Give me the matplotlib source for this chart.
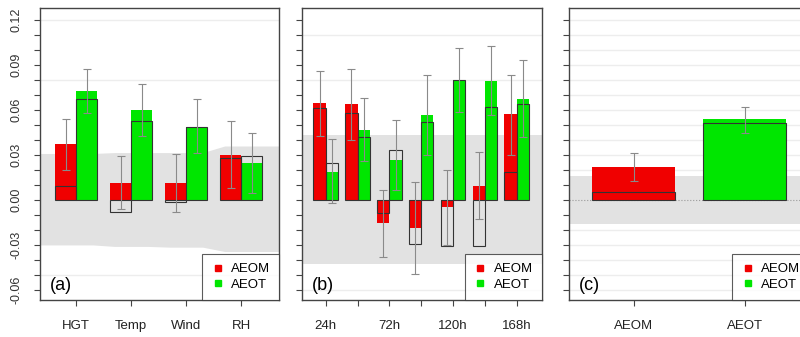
import numpy as np
import matplotlib
matplotlib.use('Agg')
import matplotlib.pyplot as plt
from matplotlib.lines import Line2D

plt.rcParams['font.family'] = ['Liberation Sans', 'DejaVu Sans']

red = '#f00000'
green = '#00e600'
band_col = '#e2e2e2'

# panel (a)
a_cats = ['HGT', 'Temp', 'Wind', 'RH']
a_aeom = [0.037, 0.0116, 0.0111, 0.030]
a_aeom_box = [0.0093, -0.0082, -0.0016, 0.0278]
a_aeom_lo = [0.020, -0.0062, -0.0082, 0.0078]
a_aeom_hi = [0.054, 0.0293, 0.0304, 0.0524]
a_aeot = [0.0727, 0.060, 0.0489, 0.0244]
a_aeot_box = [0.0673, 0.0527, 0.0489, 0.0293]
a_aeot_lo = [0.0582, 0.0427, 0.0316, 0.0044]
a_aeot_hi = [0.0871, 0.0771, 0.0673, 0.0449]
a_band_hi = [0.031, 0.0316, 0.0316, 0.036]
a_band_lo = [-0.030, -0.031, -0.0315, -0.0344]

# panel (b)
b_cats = ['24h', '48h', '72h', '96h', '120h', '144h', '168h']
b_labels = ['24h', '', '72h', '', '120h', '', '168h']
b_aeom = [0.0644, 0.064, -0.0156, -0.0189, -0.0049, 0.0096, 0.0571]
b_aeom_box = [0.0616, 0.0578, -0.0089, -0.0293, -0.0307, -0.0307, 0.0189]
b_aeom_lo = [0.0427, 0.040, -0.0378, -0.0493, -0.030, -0.0129, 0.030]
b_aeom_hi = [0.086, 0.0871, 0.0067, 0.0122, 0.020, 0.0322, 0.0833]
b_aeot = [0.0189, 0.0467, 0.0267, 0.0567, 0.080, 0.0796, 0.0676]
b_aeot_box = [0.0244, 0.0422, 0.0333, 0.0522, 0.080, 0.0622, 0.064]
b_aeot_lo = [-0.0022, 0.026, 0.0067, 0.030, 0.0584, 0.0567, 0.0422]
b_aeot_hi = [0.0407, 0.0678, 0.0533, 0.0833, 0.1011, 0.1029, 0.0933]
b_band = (0.0433, -0.0427)

# panel (c)
c_cats = ['AEOM', 'AEOT']
c_vals = [0.0218, 0.0538]
c_box = [0.0053, 0.0511]
c_lo = [0.0127, 0.0444]
c_hi = [0.0316, 0.0622]
c_band = (0.016, -0.016)

yticks = np.round(np.arange(-0.06, 0.1201, 0.01), 2)

fig = plt.figure(figsize=(8, 3.37), dpi=100)
bot, h = 0.110, 0.866
ax_a = fig.add_axes([0.05, bot, 0.299, h])
ax_b = fig.add_axes([0.3775, bot, 0.30, h])
ax_c = fig.add_axes([0.711, bot, 0.301, h])


def errs(ax, x, lo, hi):
    lo = np.array(lo); hi = np.array(hi)
    mid = (lo + hi) / 2
    ax.errorbar(x, mid, yerr=(hi - lo) / 2, fmt='none', ecolor='#8a8a8a',
                elinewidth=0.8, capsize=3, capthick=0.8, zorder=5)


def style(ax, grid_vals, label, xlim, show_ylabels=False):
    ax.set_ylim(-0.0667, 0.128)
    ax.set_xlim(*xlim)
    for g in grid_vals:
        ax.axhline(g, color='#ededed', lw=1, zorder=0)
    ax.set_yticks(yticks)
    if show_ylabels:
        ax.set_yticklabels(['%.2f' % v if round(v * 100) % 3 == 0 else '' for v in yticks],
                           rotation=90, va='center', fontsize=9, color='#333333')
    else:
        ax.set_yticklabels([])
    ax.tick_params(axis='both', direction='out', length=4.5, width=0.8, color='#444444')
    ax.tick_params(axis='x', pad=10, labelsize=9.5, labelcolor='#222222')
    ax.tick_params(axis='y', pad=8)
    for s in ax.spines.values():
        s.set_color('#444444')
        s.set_linewidth(1)
    ax.text(0.04, 0.05, label, transform=ax.transAxes, fontsize=13, va='center', ha='left')
    handles = [Line2D([], [], marker='s', ls='none', color=red, markersize=5),
               Line2D([], [], marker='s', ls='none', color=green, markersize=5)]
    leg = ax.legend(handles, ['AEOM', 'AEOT'], loc='lower right', fontsize=9.5,
                    frameon=True, fancybox=False, borderaxespad=0, handlelength=1,
                    handletextpad=0.5, borderpad=0.7, labelspacing=0.25)
    leg.get_frame().set_edgecolor('#333333')
    leg.get_frame().set_linewidth(0.8)


def grouped(ax, n, w, m_vals, m_box, m_lo, m_hi, t_vals, t_box, t_lo, t_hi):
    x = np.arange(n)
    xm = x - w / 2
    xt = x + w / 2
    ax.bar(xm, m_vals, w, color=red, zorder=3)
    ax.bar(xt, t_vals, w, color=green, zorder=3)
    ax.bar(xm, m_box, w, fill=False, edgecolor='#333333', lw=0.8, zorder=4)
    ax.bar(xt, t_box, w, fill=False, edgecolor='#333333', lw=0.8, zorder=4)
    errs(ax, xm, m_lo, m_hi)
    errs(ax, xt, t_lo, t_hi)


# (a)
xa = np.arange(len(a_cats))
bx = [-0.7]
bhi = [a_band_hi[0]]
blo = [a_band_lo[0]]
for i in range(len(a_cats)):
    bx += [i - 0.3, i + 0.3]
    bhi += [a_band_hi[i]] * 2
    blo += [a_band_lo[i]] * 2
bx.append(3.8); bhi.append(a_band_hi[-1]); blo.append(a_band_lo[-1])
ax_a.fill_between(bx, blo, bhi, color=band_col, lw=0, zorder=1)
grouped(ax_a, len(a_cats), 0.38, a_aeom, a_aeom_box, a_aeom_lo, a_aeom_hi,
        a_aeot, a_aeot_box, a_aeot_lo, a_aeot_hi)
style(ax_a, [0.12, 0.08, -0.05], '(a)', (-0.655, 3.69), show_ylabels=True)
ax_a.set_xticks(xa)
ax_a.set_xticklabels(a_cats)

# (b)
xb = np.arange(len(b_cats))
ax_b.axhspan(b_band[1], b_band[0], color=band_col, lw=0, zorder=1)
grouped(ax_b, len(b_cats), 0.386, b_aeom, b_aeom_box, b_aeom_lo, b_aeom_hi,
        b_aeot, b_aeot_box, b_aeot_lo, b_aeot_hi)
style(ax_b, [0.11, 0.08, -0.06], '(b)', (-0.745, 6.795))
ax_b.set_xticks(xb)
ax_b.set_xticklabels(b_labels)

# (c)
xc = np.arange(len(c_cats))
ax_c.axhspan(c_band[1], c_band[0], color=band_col, lw=0, zorder=1)
ax_c.axhline(0, color='#999999', lw=0.8, ls=':', zorder=2)
ax_c.bar(xc, c_vals, 0.75, color=[red, green], zorder=3)
ax_c.bar(xc, c_box, 0.75, fill=False, edgecolor='#333333', lw=0.8, zorder=4)
errs(ax_c, xc, c_lo, c_hi)
style(ax_c, [v for v in yticks if abs(v) > 0.001], '(c)', (-0.585, 1.585))
ax_c.set_xticks(xc)
ax_c.set_xticklabels(c_cats)

fig.savefig('out.png', dpi=100)
